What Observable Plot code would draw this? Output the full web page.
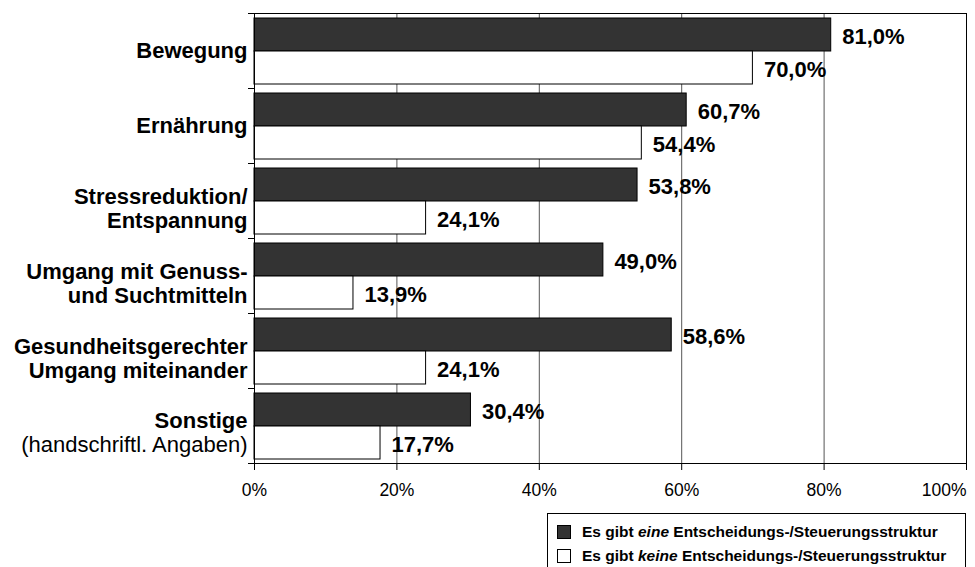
<!DOCTYPE html>
<html>
<head>
<meta charset="utf-8">
<script src="https://cdn.jsdelivr.net/npm/d3@7"></script>
<script src="https://cdn.jsdelivr.net/npm/@observablehq/plot@0.6"></script>
<style>
  body { margin: 0; background: #fff; font-family: "Liberation Sans", Arial, sans-serif; }
  #chart svg { display: block; }
  .legend { margin-top: 3px; margin-left: 547px; width: 419px; height: 60px; border: 1px solid #000; border-bottom: none;
            padding: 6px 0 0 9px; box-sizing: border-box; font-weight: bold; font-size: 15.5px; color: #000; }
  .legend .row { height: 24px; line-height: 24px; display: flex; align-items: center; }
  .legend .sw { width: 12px; height: 12px; border: 1px solid #000; margin-right: 11px; flex: none; }
</style>
</head>
<body>
<div id="chart"></div>
<script>
const categories = ["Bewegung", "Ernährung", "Stressreduktion/ Entspannung", "Umgang mit Genuss- und Suchtmitteln", "Gesundheitsgerechter Umgang miteinander", "Sonstige"];
const categoryLabels = ["Bewegung", "Ernährung", "Stressreduktion/\nEntspannung", "Umgang mit Genuss-\nund Suchtmitteln", "Gesundheitsgerechter\nUmgang miteinander", "Sonstige"];
const categoryNotes = ["", "", "", "", "", "(handschriftl. Angaben)"];
const seriesNames = ["Es gibt eine Entscheidungs-/Steuerungsstruktur", "Es gibt keine Entscheidungs-/Steuerungsstruktur"];
const valuesEine = [81.0, 60.7, 53.8, 49.0, 58.6, 30.4];
const valuesKeine = [70.0, 54.4, 24.1, 13.9, 24.1, 17.7];
const xTicks = [0, 20, 40, 60, 80];
const xLastTick = [100];
const gridTicks = [20, 40, 60, 80];

const fmt = v => v.toFixed(1).replace(".", ",") + "%";
const rowsEine = categories.map((c, i) => ({cat: c, value: valuesEine[i]}));
const rowsKeine = categories.map((c, i) => ({cat: c, value: valuesKeine[i]}));
const labelRows = categories.map((c, i) => ({cat: c, label: categoryLabels[i], note: categoryNotes[i]}));

const font = "'Liberation Sans', Arial, sans-serif";

const chart = Plot.plot({
  width: 975,
  height: 510,
  marginLeft: 254,
  marginRight: 9,
  marginTop: 13,
  marginBottom: 47,
  style: {fontFamily: font, fontSize: "17.5px", color: "#000", background: "#fff"},
  x: {domain: [0, 100], axis: null},
  y: {domain: categories, padding: 0, axis: null},
  marks: [
    Plot.ruleX(gridTicks, {stroke: "#555", strokeOpacity: 1}),
    Plot.barX(rowsEine, {x: "value", y: "cat", fill: "#333", stroke: "#000", strokeWidth: 1, insetTop: 5, insetBottom: 37}),
    Plot.barX(rowsKeine, {x: "value", y: "cat", fill: "#fff", stroke: "#000", strokeWidth: 1, insetTop: 38, insetBottom: 4}),
    Plot.frame({stroke: "#000"}),
    Plot.axisX({ticks: xTicks, tickFormat: d => d + "%", tickSize: 7, tickPadding: 13, fontSize: 17.5, stroke: "#000", label: null}),
    Plot.axisX({ticks: xLastTick, tickFormat: d => d + "%", tickSize: 7, tickPadding: 13, fontSize: 17.5, stroke: "#000", textAnchor: "end", label: null}),
    Plot.axisY({ticks: categories, tickFormat: () => "", tickSize: 6, dy: -37.5, stroke: "#000", label: null}),
    Plot.axisY({ticks: [categories[categories.length - 1]], tickFormat: () => "", tickSize: 6, dy: 37.5, stroke: "#000", label: null}),
    Plot.text(rowsEine, {x: "value", y: "cat", text: d => fmt(d.value), textAnchor: "start", dx: 11, dy: -14.5, fontSize: 22, fontWeight: "bold", fill: "#000"}),
    Plot.text(rowsKeine, {x: "value", y: "cat", text: d => fmt(d.value), textAnchor: "start", dx: 11, dy: 19, fontSize: 22, fontWeight: "bold", fill: "#000"}),
    Plot.text(labelRows.filter(d => !d.note && !d.label.includes("\n")), {y: "cat", text: "label", frameAnchor: "left", textAnchor: "end", dx: -7, fontSize: 22, fontWeight: "bold", fill: "#000"}),
    Plot.text(labelRows.filter(d => !d.note && d.label.includes("\n")), {y: "cat", text: "label", frameAnchor: "left", textAnchor: "end", dx: -7, dy: 7.5, lineHeight: 1.08, fontSize: 22, fontWeight: "bold", fill: "#000"}),
    Plot.text(labelRows.filter(d => d.note), {y: "cat", text: "label", frameAnchor: "left", textAnchor: "end", dx: -7, dy: -5, fontSize: 22, fontWeight: "bold", fill: "#000"}),
    Plot.text(labelRows.filter(d => d.note), {y: "cat", text: "note", frameAnchor: "left", textAnchor: "end", dx: -7, dy: 19, fontSize: 22, fontWeight: "normal", fill: "#000"})
  ]
});
document.getElementById("chart").appendChild(chart);

// Legend (HTML, below the SVG)
const legend = document.createElement("div");
legend.className = "legend";
const fills = ["#333", "#fff"];
const emph = ["eine", "keine"];
seriesNames.forEach((name, i) => {
  const row = document.createElement("div");
  row.className = "row";
  const sw = document.createElement("span");
  sw.className = "sw";
  sw.style.background = fills[i];
  row.appendChild(sw);
  const txt = document.createElement("span");
  const [pre, post] = name.split(" " + emph[i] + " ");
  txt.innerHTML = pre + " <i>" + emph[i] + "</i> " + post;
  row.appendChild(txt);
  legend.appendChild(row);
});
document.body.appendChild(legend);
</script>
</body>
</html>
